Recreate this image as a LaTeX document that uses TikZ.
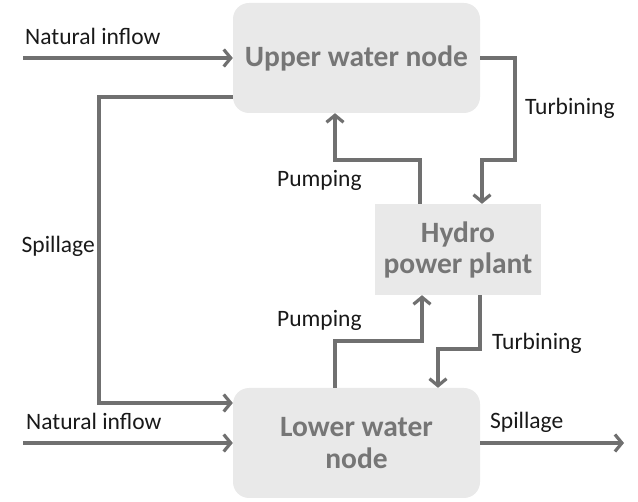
\documentclass[tikz,border=0pt]{standalone}
\usepackage{fontspec}
\setmainfont{Carlito}
\usepackage{xcolor}
\usepackage{tikz}
\usetikzlibrary{arrows.meta}

\definecolor{flowgray}{HTML}{707070}
\definecolor{boxgray}{HTML}{E9E9E9}
\definecolor{boxtext}{HTML}{767676}

\begin{document}
\begin{tikzpicture}[
    x=1pt, y=-1pt,
    water/.style={
      fill=boxgray, rounded corners=16pt,
      minimum width=247pt, minimum height=110pt,
      text=boxtext, align=center,
      font=\fontsize{29.5}{32}\selectfont\bfseries
    },
    plant/.style={
      fill=boxgray,
      minimum width=166pt, minimum height=91pt,
      text=boxtext, align=center,
      font=\fontsize{29.5}{31}\selectfont\bfseries
    },
    lbl/.style={text=black!90, inner sep=0pt, font=\fontsize{23.5}{26}\selectfont},
    flow/.style={draw=flowgray, line width=3.2pt},
    >={Straight Barb[length=7pt,width=17pt]}
]
  \useasboundingbox (0,0) rectangle (638,502);

  % Define the nodes
  \node[water] (upper) at (356.5,58) {Upper water node};
  \node[plant] (hydro) at (458,249.5) {Hydro\\power plant};
  \node[water] (lower) at (356.5,443) {Lower water\\node};

  % free ends and bends
  \coordinate (in1) at (23,58);
  \coordinate (in2) at (23,443);
  \coordinate (out2) at (624,443);
  \coordinate (sp1) at (99,97);
  \coordinate (sp2) at (99,403);
  \coordinate (tu1) at (515,160);
  \coordinate (tu2) at (482,160);
  \coordinate (pu1) at (420,160);
  \coordinate (pu2) at (335,160);
  \coordinate (pl1) at (335,341);
  \coordinate (pl2) at (422,341);
  \coordinate (tl1) at (480,349);
  \coordinate (tl2) at (438,349);

  % Inflows and spillage
  \draw[flow,->] (in1) -- (upper.west);
  \draw[flow,->] (in2) -- (lower.west);
  \draw[flow,->] (upper.west |- sp1) -- (sp1) -- (sp2) -- (lower.west |- sp2);
  \draw[flow,->] (lower.east) -- (out2);

  % Upper water node to power plant
  \draw[flow,->] (upper.east) -| (tu1) -- (tu2) -- (tu2 |- hydro.north);
  \draw[flow,->] (pu1 |- hydro.north) -- (pu1) -- (pu2) -- (pu2 |- upper.south);

  % Power plant to lower water node
  \draw[flow,->] (pl1 |- lower.north) -- (pl1) -- (pl2) -- (pl2 |- hydro.south);
  \draw[flow,->] (tl1 |- hydro.south) -- (tl1) -- (tl2) -- (tl2 |- lower.north);

  % labels
  \node[lbl, anchor=base west] (lin1) at (25,45) {Natural inflow};
  \node[lbl, anchor=base west] (lin2) at (26,430) {Natural inflow};
  \node[lbl, anchor=base east] (lsp1) at (95,253) {Spillage};
  \node[lbl, anchor=base west] (lsp2) at (490,429) {Spillage};
  \node[lbl, anchor=base west] (ltu1) at (525,115) {Turbining};
  \node[lbl, anchor=base west] (ltu2) at (492,350) {Turbining};
  \node[lbl, anchor=base west] (lpu1) at (277,187) {Pumping};
  \node[lbl, anchor=base west] (lpu2) at (277,327) {Pumping};

\end{tikzpicture}
\end{document}
